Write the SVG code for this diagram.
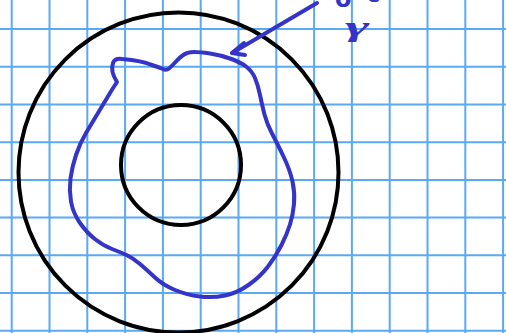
<svg xmlns="http://www.w3.org/2000/svg" width="506" height="333" viewBox="0 0 506 333">
  <style>
    .grid line { stroke: #5aa9f5; stroke-width: 2; }
    .circ { fill: none; stroke: #000; stroke-width: 4; }
    .ink { fill: none; stroke: #3434c8; stroke-width: 4; stroke-linecap: round; stroke-linejoin: round; }
    .lbl { fill: #3434c8; font-family: "DejaVu Sans", sans-serif; }
  </style>
  <rect width="506" height="333" fill="#fff"/>
  <g class="grid">
    <line x1="11.7" y1="0" x2="11.7" y2="333"/>
    <line x1="49.5" y1="0" x2="49.5" y2="333"/>
    <line x1="87.3" y1="0" x2="87.3" y2="333"/>
    <line x1="125.1" y1="0" x2="125.1" y2="333"/>
    <line x1="162.9" y1="0" x2="162.9" y2="333"/>
    <line x1="200.7" y1="0" x2="200.7" y2="333"/>
    <line x1="238.5" y1="0" x2="238.5" y2="333"/>
    <line x1="276.3" y1="0" x2="276.3" y2="333"/>
    <line x1="314.1" y1="0" x2="314.1" y2="333"/>
    <line x1="351.9" y1="0" x2="351.9" y2="333"/>
    <line x1="389.7" y1="0" x2="389.7" y2="333"/>
    <line x1="427.5" y1="0" x2="427.5" y2="333"/>
    <line x1="465.3" y1="0" x2="465.3" y2="333"/>
    <line x1="503.1" y1="0" x2="503.1" y2="333"/>
    <line x1="0" y1="29" x2="506" y2="29"/>
    <line x1="0" y1="66.7" x2="506" y2="66.7"/>
    <line x1="0" y1="104.5" x2="506" y2="104.5"/>
    <line x1="0" y1="142.2" x2="506" y2="142.2"/>
    <line x1="0" y1="179.9" x2="506" y2="179.9"/>
    <line x1="0" y1="217.6" x2="506" y2="217.6"/>
    <line x1="0" y1="255.3" x2="506" y2="255.3"/>
    <line x1="0" y1="293" x2="506" y2="293"/>
    <line x1="0" y1="330.7" x2="506" y2="330.7"/>
  </g>
  <g id="outer-circle">
    <circle class="circ" cx="178.5" cy="172.5" r="160"/>
  </g>
  <g id="inner-circle">
    <circle class="circ" cx="181" cy="165" r="60"/>
  </g>
  <g id="curve-gamma">
    <path class="ink" d="M117,82 Q110,71 113,63 Q115,58 122,59 Q143,61 150.5,64.5 Q158,67 162,68.5 Q166,71 169,68.5 Q172,66 176,61.5 Q180,57 184,54.5 Q188,52 194,52 Q200,52 210,53.5 Q220,55 230,58.5 Q240,62 246,66.5 Q252,71 255,78 Q258,85 260,95 Q262,105 264.5,114.5 Q267,124 272,133.5 Q277,143 283.5,156.5 Q290,170 292.5,181.5 Q295,193 294,204 Q293,215 290,224.5 Q287,234 281.5,245 Q276,256 268,266.5 Q260,277 248.5,285 Q237,293 225,295.5 Q213,298 200,296.5 Q187,295 175,290 Q163,285 155,277.5 Q147,270 140,264 Q133,258 126.5,255 Q120,252 112,249 Q104,246 95.5,239.5 Q87,233 80,223 Q73,213 71,201.5 Q69,190 70.5,178.5 Q72,167 76,155 Q80,143 86,133 Q92,123 99.5,110.5 Q107,98 110,93 Q113,88 117,82 Z"/>
  </g>
  <g id="labels">
    <text class="lbl" x="335" y="7" font-size="24" font-weight="bold">o</text>
    <text class="lbl" x="366" y="2" font-size="24" font-weight="bold">c</text>
    <text class="lbl" font-size="28" font-weight="bold" font-style="italic" style="font-family:'Liberation Serif', serif" transform="translate(345,36) scale(2.1,1)">γ</text>
  </g>
  <g id="connectors">
    <path class="ink" d="M317,3 L232,53"/>
    <path class="ink" d="M244,43 L232,53 L245,55"/>
  </g>
</svg>
